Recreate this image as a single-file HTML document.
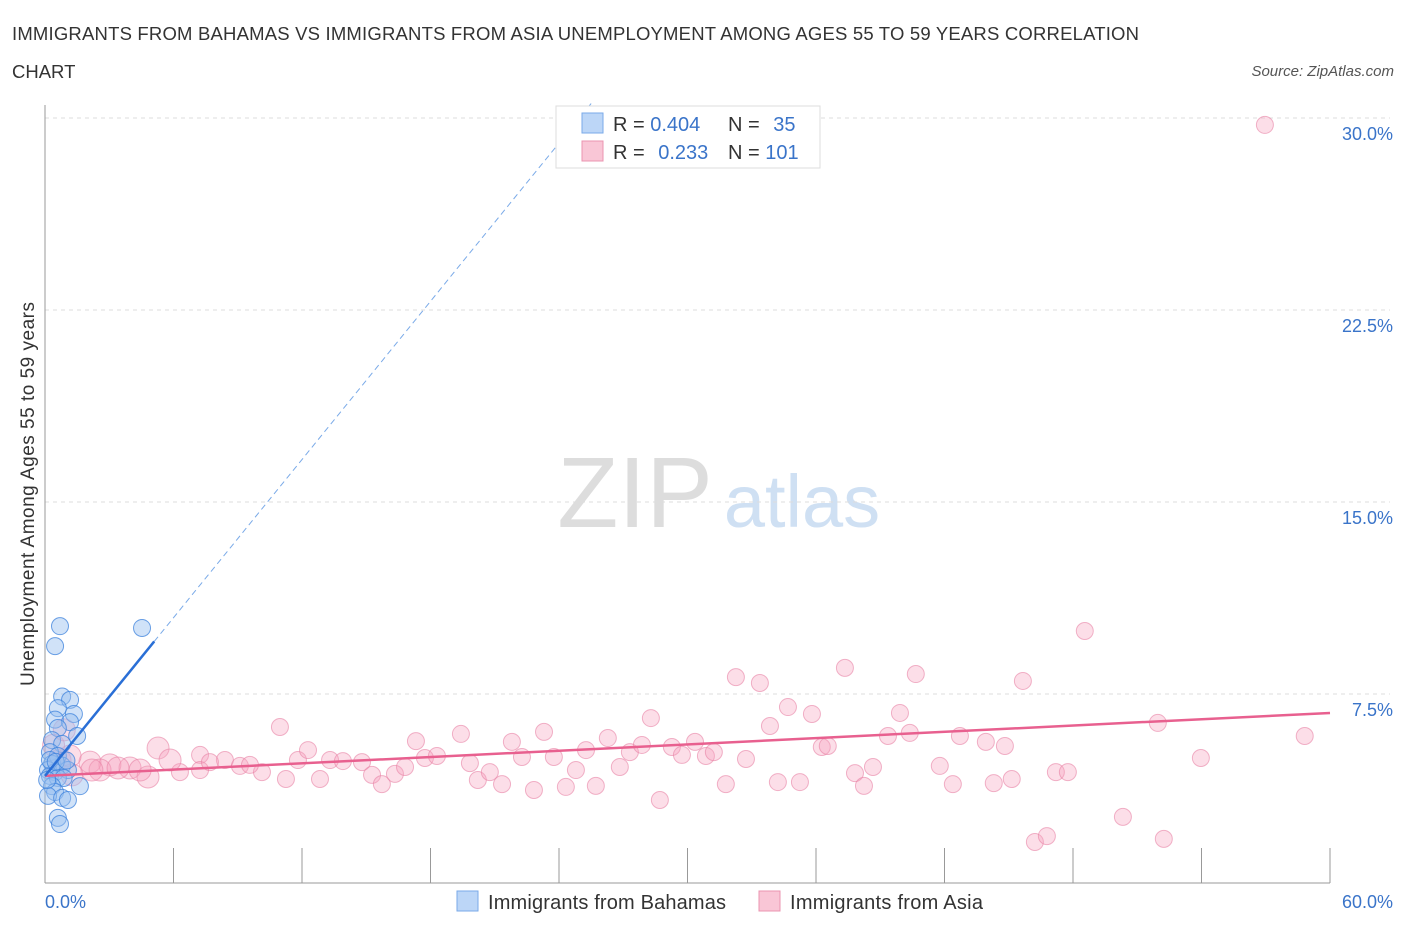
<!DOCTYPE html>
<html><head><meta charset="utf-8"><style>
body{margin:0;background:#fff;font-family:"Liberation Sans",sans-serif;}
svg text{font-family:"Liberation Sans",sans-serif;}
</style></head><body>
<svg width="1406" height="930" viewBox="0 0 1406 930">
<text x="12" y="40" font-size="18.5" fill="#333" textLength="1127">IMMIGRANTS FROM BAHAMAS VS IMMIGRANTS FROM ASIA UNEMPLOYMENT AMONG AGES 55 TO 59 YEARS CORRELATION</text>
<text x="12" y="78" font-size="18.5" fill="#333">CHART</text>
<text x="1394" y="76" font-size="15" fill="#555" font-style="italic" text-anchor="end">Source: ZipAtlas.com</text>
<g>
<text x="635" y="527" font-size="100" fill="#ddd" font-family="Liberation Serif" text-anchor="middle">ZIP</text>
<text x="802" y="527" font-size="74" fill="#cfe0f3" text-anchor="middle">atlas</text>
</g>
<g id="grid"></g>
<g id="axes"></g>
<g id="marks"></g>
<text transform="translate(34,494) rotate(-90)" font-size="19" fill="#333" text-anchor="middle" textLength="384">Unemployment Among Ages 55 to 59 years</text>
<g>
<rect x="556" y="106" width="264" height="62" fill="#fff" stroke="#ddd"/>
<rect x="582" y="113" width="21" height="20" fill="#bcd6f7" stroke="#7aaae8"/>
<rect x="582" y="141" width="21" height="20" fill="#f9c6d6" stroke="#eb94b0"/>
<text x="613" y="131" font-size="20" fill="#333">R = <tspan fill="#3a74c9">0.404</tspan></text>
<text x="728" y="131" font-size="20" fill="#333">N = <tspan fill="#3a74c9" dx="8">35</tspan></text>
<text x="613" y="159" font-size="20" fill="#333">R = <tspan fill="#3a74c9" dx="8">0.233</tspan></text>
<text x="728" y="159" font-size="20" fill="#333">N = <tspan fill="#3a74c9">101</tspan></text>
</g>
<g>
<rect x="457" y="891" width="21" height="20" fill="#bcd6f7" stroke="#7aaae8"/>
<text x="488" y="909" font-size="20" fill="#333" textLength="238">Immigrants from Bahamas</text>
<rect x="759" y="891" width="21" height="20" fill="#f9c6d6" stroke="#eb94b0"/>
<text x="790" y="909" font-size="20" fill="#333" textLength="193">Immigrants from Asia</text>
</g>
</svg>
<script>
const yTicks=[7.5,15,22.5,30];
const yTickLabels=["7.5%","15.0%","22.5%","30.0%"];
const xTickLabels=["0.0%","60.0%"];
const blueX=[0.7,0.47,4.53,0.8,1.17,0.6,1.35,0.47,1.17,0.6,1.5,0.33,0.8,0.23,0.6,0.33,0.8,0.14,0.47,1.07,0.23,0.6,0.87,1.63,0.33,0.47,0.14,0.8,1.07,0.6,0.7,0.23,0.5,1.0,0.1];
const blueY=[10.15,9.37,10.08,7.4,7.27,6.95,6.72,6.5,6.4,6.17,5.86,5.7,5.55,5.23,5.08,4.77,4.7,4.53,4.45,4.53,4.3,4.22,4.22,3.9,3.9,3.67,3.52,3.44,3.36,2.66,2.42,4.92,4.85,4.9,4.14];
const pinkX=[56.96,48.55,37.35,32.26,33.38,40.66,45.66,28.29,34.69,35.81,39.92,51.96,58.82,33.85,23.30,19.42,17.32,10.97,5.28,3.03,2.10,0.70,1.17,3.97,4.81,6.30,7.24,8.40,9.10,10.13,11.25,11.81,12.28,12.84,13.31,13.91,14.80,15.27,15.73,16.34,16.81,17.74,18.30,19.84,20.21,20.77,21.34,21.80,22.27,22.83,23.76,24.32,24.79,25.26,25.72,26.28,26.84,27.31,27.87,28.71,29.27,29.74,30.35,30.86,31.23,31.79,32.73,34.22,35.25,36.27,36.55,37.82,38.24,38.66,39.36,40.38,41.78,42.39,42.72,43.93,44.30,44.82,45.14,46.22,46.78,47.20,47.76,50.33,52.24,53.97,2.57,3.41,4.44,7.24,9.57,5.84,7.70,2.19,1.26,0.4,0.9];
const pinkY=[29.73,9.96,8.52,8.16,7.93,8.28,8.01,6.56,6.99,6.72,6.76,6.37,5.86,6.25,6.02,5.94,5.66,6.21,5.39,4.73,4.84,4.92,5.08,4.61,4.26,4.45,5.12,4.92,4.69,4.45,4.18,4.92,5.31,4.18,4.92,4.88,4.84,4.34,3.98,4.38,4.65,5.0,5.08,4.80,4.14,4.45,3.98,5.63,5.04,3.75,5.04,3.87,4.53,5.31,3.91,5.78,4.65,5.23,5.51,3.36,5.43,5.12,5.63,5.08,5.23,3.98,4.96,4.06,4.06,5.43,5.47,4.41,3.91,4.65,5.86,5.98,4.69,3.98,5.86,5.63,4.02,5.47,4.18,1.72,1.95,4.45,4.45,2.70,1.84,5.0,4.53,4.61,4.53,4.53,4.73,4.92,4.84,4.53,4.34,5.5,6.1];
const blueTrend=[4.3,1.03]; // intercept, slope
const pinkTrend=[4.3,0.041];
const NS="http://www.w3.org/2000/svg";
const X=v=>45+v*(1285/60), Y=v=>886-v*25.6;
function mk(tag,attrs,parent){const e=document.createElementNS(NS,tag);for(const k in attrs)e.setAttribute(k,attrs[k]);document.getElementById(parent).appendChild(e);return e;}
yTicks.forEach((t,i)=>{
 const g=mk('line',{x1:45,x2:1390,y1:Y(t),y2:Y(t),stroke:'#ddd','stroke-dasharray':'4,4'},'grid');
 
 
 const l=mk('text',{x:1393,y:Y(t)+22,'font-size':18,fill:'#3a74c9','text-anchor':'end'},'axes');
 l.textContent=yTickLabels[i];
 
 
});
const ax=mk('line',{x1:45,x2:45,y1:105,y2:883,stroke:'#999'},'axes');


const bx=mk('line',{x1:45,x2:1330,y1:883,y2:883,stroke:'#999'},'axes');


for(let i=0;i<=10;i++){
 const t=mk('line',{x1:X(i*6),x2:X(i*6),y1:848,y2:883,stroke:'#999'},'axes');
 
 
}
const xl0=mk('text',{x:45,y:908,'font-size':18,fill:'#3a74c9'},'axes');xl0.textContent=xTickLabels[0];


const xl1=mk('text',{x:1393,y:908,'font-size':18,fill:'#3a74c9','text-anchor':'end'},'axes');xl1.textContent=xTickLabels[1];


pinkX.forEach((x,i)=>{
 const c=mk('circle',{cx:X(x),cy:Y(pinkY[i]),r:(x<6?11:8.5),fill:'rgba(245,160,188,0.35)',stroke:'rgba(232,130,165,0.6)','stroke-width':1},'marks');
 
 
});
blueX.forEach((x,i)=>{
 const c=mk('circle',{cx:X(x),cy:Y(blueY[i]),r:8.5,fill:'rgba(150,190,240,0.45)',stroke:'rgba(60,130,220,0.75)','stroke-width':1},'marks');
 
 
});
const pl=mk('line',{x1:X(0),y1:Y(pinkTrend[0]),x2:X(60),y2:Y(pinkTrend[0]+pinkTrend[1]*60),stroke:'#e8608f','stroke-width':2.5},'marks');


const bl=mk('line',{x1:X(0),y1:Y(blueTrend[0]),x2:X(5.1),y2:Y(blueTrend[0]+blueTrend[1]*5.1),stroke:'#2a6fd6','stroke-width':2.5},'marks');


const bd=mk('line',{x1:X(5.1),y1:Y(blueTrend[0]+blueTrend[1]*5.1),x2:X(25.5),y2:Y(blueTrend[0]+blueTrend[1]*25.5),stroke:'#7aaae8','stroke-width':1,'stroke-dasharray':'6,4'},'marks');


</script>
</body></html>
